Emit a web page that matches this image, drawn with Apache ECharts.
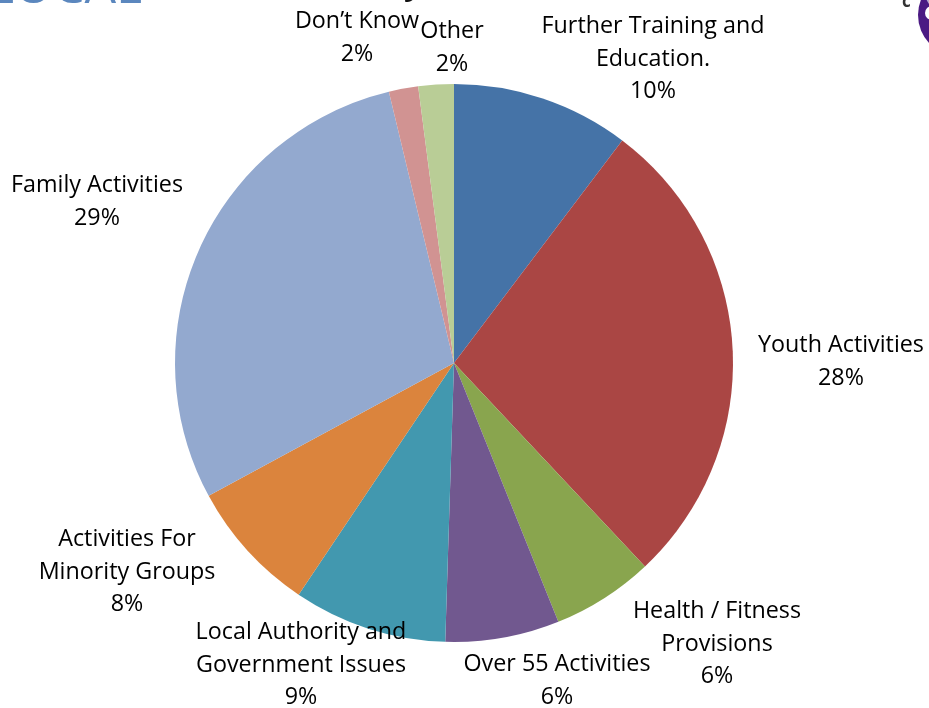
<!DOCTYPE html>
<html><head><meta charset="utf-8">
<style>html,body{margin:0;padding:0;background:#fff}#c{width:929px;height:708px}</style>
<script src="https://cdn.jsdelivr.net/npm/echarts@6/dist/echarts.min.js"></script>
</head><body><div id="c"></div>
<script>
const categories = ["Further Training and\nEducation.","Youth Activities","Health / Fitness\nProvisions","Over 55 Activities","Local Authority and\nGovernment Issues","Activities For\nMinority Groups","Family Activities","Don\u2019t Know","Other"];
const values = [10.3,27.7,5.9,6.6,8.9,7.7,29.15,1.7,2.05];
const percentLabels = ["10%","28%","6%","6%","9%","8%","29%","2%","2%"];
const colors = ["#4573A7","#AA4644","#89A54E","#71588F","#4298AF","#DB843D","#93A9CF","#D19392","#B9CD96"];
const labelCentres = [[653,59],[841,362],[717,644],[557,681],[301,665],[127,572],[97,202],[357,38],[452,48]];
const chart = echarts.init(document.getElementById('c'),null,{renderer:'canvas'});
chart.setOption({
  animation:false,
  graphic:[
    {type:'text',left:-12,top:-36,style:{text:'LOCAL',font:'50px "Open Sans"',fill:'#5B87BE'}},
    {type:'text',left:404,top:-31,style:{text:'y',font:'bold 32px "Open Sans"',fill:'#111'}},
    {type:'circle',shape:{cx:959,cy:15,r:41},style:{fill:'#4B1A83'}},
    {type:'circle',shape:{cx:945,cy:-8,r:20},style:{fill:'#B9AED0'}},
    {type:'circle',shape:{cx:932,cy:13,r:7},style:{fill:'#fff'}},
    {type:'text',left:902,top:-6,style:{text:'c',font:'bold 17px "Open Sans"',fill:'#333'}}
  ],
  series:[{
    type:'pie',
    center:[454,363],
    radius:[0,279],
    startAngle:90,
    clockwise:true,
    avoidLabelOverlap:false,
    percentPrecision:0,
    data:categories.map((n,i)=>({name:n,value:values[i],itemStyle:{color:colors[i]},
      label:{formatter:n+'\n'+percentLabels[i]}})),
    label:{show:true,position:'outside',color:'#000',fontFamily:'"Open Sans"',fontSize:23.3,lineHeight:32.5,align:'center'},
    labelLine:{show:false},
    labelLayout:p=>({x:labelCentres[p.dataIndex][0],y:labelCentres[p.dataIndex][1],align:'center',verticalAlign:'middle'}),
    emphasis:{disabled:true}
  }]
});
</script></body></html>
